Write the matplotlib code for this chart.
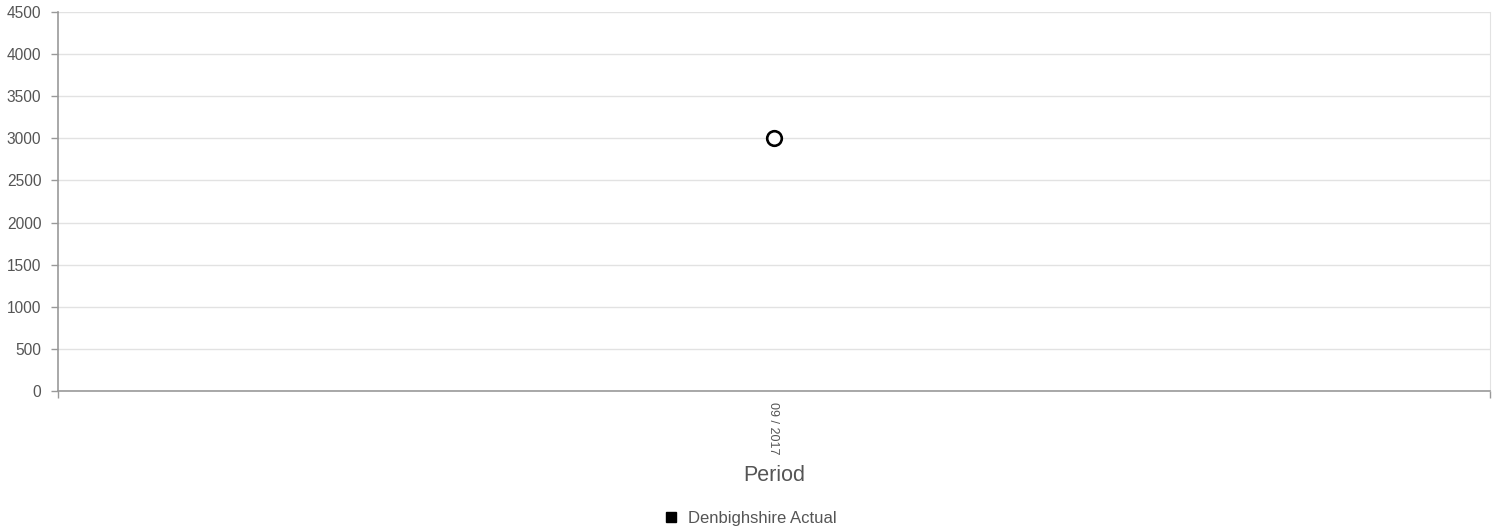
import matplotlib
matplotlib.use('Agg')
import matplotlib.pyplot as plt
from matplotlib.lines import Line2D

# chart data
periods = ['09 / 2017']
actual = [3000]
series_name = 'Denbighshire Actual'
y_ticks = [0, 500, 1000, 1500, 2000, 2500, 3000, 3500, 4000, 4500]

plt.rcParams['font.family'] = ['Liberation Sans', 'DejaVu Sans']

fig = plt.figure(figsize=(14.99, 5.32), dpi=100)
ax = fig.add_axes([58 / 1499, 1 - 391 / 532, (1490 - 58) / 1499, (391 - 12) / 532])

# point
xs = list(range(len(periods)))
ax.plot(xs, actual, linestyle='none', marker='o', markersize=10.5,
        markerfacecolor='white', markeredgecolor='black', markeredgewidth=1.9,
        zorder=5, clip_on=False)

# y axis
ax.set_ylim(0, 4500)
ax.set_yticks(y_ticks)
ax.set_yticklabels([str(v) for v in y_ticks])
ax.yaxis.grid(True, color='#e2e2e2', linewidth=1)
ax.set_axisbelow(True)
ax.tick_params(axis='y', colors='#999999', labelcolor='#555555', labelsize=11.2,
               length=5, width=1, pad=7)

# x axis: category centred, ticks at edges
ax.set_xlim(-0.5, len(periods) - 0.5)
ax.set_xticks([-0.5, len(periods) - 0.5])
ax.set_xticklabels(['', ''])
ax.tick_params(axis='x', colors='#999999', length=5, width=1)
for x, lab in zip(xs, periods):
    ax.text(x - 0.001, -0.03, lab, transform=ax.get_xaxis_transform(), rotation=-90,
            ha='center', va='top', fontsize=9, color='#555555')

ax.text(0.5, -0.222, 'Period', transform=ax.transAxes, ha='center', va='center',
        fontsize=15.5, color='#555555')

for side in ['left', 'bottom']:
    ax.spines[side].set_color('#999999')
    ax.spines[side].set_linewidth(1.2)
ax.spines['top'].set_visible(False)
ax.spines['right'].set_color('#e2e2e2')

# legend
handle = Line2D([], [], linestyle='none', marker='s', markersize=7.5,
                markerfacecolor='black', markeredgecolor='black')
fig.legend([handle], [series_name], loc='center', bbox_to_anchor=(0.5, 1 - 518 / 532),
           frameon=False, fontsize=12, labelcolor='#555555', handletextpad=0.5,
           handlelength=1.0)

fig.savefig('out.png', dpi=100)
